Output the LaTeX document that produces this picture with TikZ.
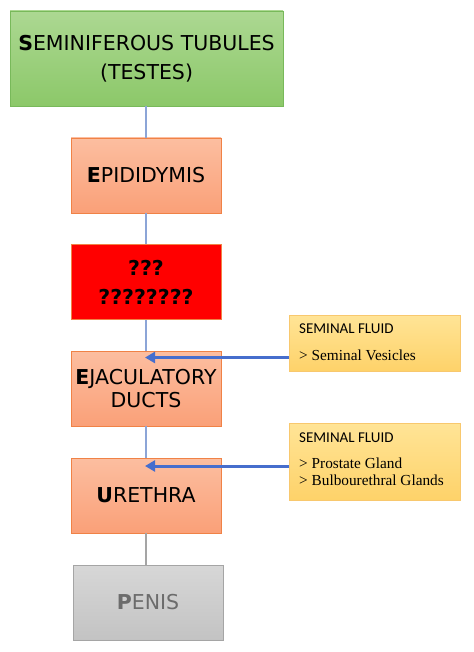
\documentclass[tikz,border=0pt]{standalone}
\usepackage{fontspec}
\setmainfont{DejaVu Sans}
\newfontfamily\calib{Carlito}
\newfontfamily\timesf{Liberation Serif}
\usetikzlibrary{arrows.meta}
\definecolor{grnT}{RGB}{172,216,146}
\definecolor{grnB}{RGB}{140,200,105}
\definecolor{grnE}{RGB}{120,185,90}
\definecolor{orT}{RGB}{252,190,160}
\definecolor{orB}{RGB}{250,160,120}
\definecolor{orE}{RGB}{240,130,70}
\definecolor{ylT}{RGB}{255,228,150}
\definecolor{ylB}{RGB}{254,210,105}
\definecolor{ylE}{RGB}{248,200,110}
\definecolor{gyT}{RGB}{215,215,215}
\definecolor{gyB}{RGB}{195,195,195}
\definecolor{gyE}{RGB}{165,165,165}
\definecolor{lnB}{RGB}{140,165,215}
\definecolor{arB}{RGB}{70,110,205}
\begin{document}
\begin{tikzpicture}[x=1pt,y=-1pt,
  boxbase/.style={draw, line width=0.8pt, minimum width=150pt, minimum height=75pt, align=center, inner sep=1pt, font=\fontsize{20.5}{29}\selectfont},
  orbox/.style={boxbase, draw=orE, top color=orT, bottom color=orB},
  redbox/.style={boxbase, draw=orE, fill=red, font=\fontsize{20.5}{29}\selectfont\bfseries},
  grbox/.style={boxbase, draw=grnE, top color=grnT, bottom color=grnB, minimum width=273pt, minimum height=95pt},
  gybox/.style={boxbase, draw=gyE, top color=gyT, bottom color=gyB, text=gray!85!black},
  ylbox/.style={draw=ylE, line width=0.8pt, top color=ylT, bottom color=ylB, minimum width=171pt, anchor=north west, align=left, inner sep=0pt, text width=160pt},
  ylhead/.style={anchor=west, inner sep=0pt, font=\calib\fontsize{15}{17}\selectfont},
  ylitem/.style={anchor=west, inner sep=0pt, font=\timesf\fontsize{15.3}{17}\selectfont},
  link/.style={draw=lnB, line width=1.1pt},
  feed/.style={draw=arB, line width=3pt, -{Triangle[length=10pt,width=11pt]}}
]
\useasboundingbox (0,0) rectangle (473,652);
\node[grbox] (sem) at (146.5,58.5) {\textbf{S}EMINIFEROUS TUBULES\\(TESTES)};
\node[orbox] (epi) at (146,175.5) {\textbf{E}PIDIDYMIS};
\node[redbox] (vas) at (146,282) {???\\????????};
\node[orbox, font=\fontsize{20.5}{22.5}\selectfont] (eja) at (146,388.5) {\textbf{E}JACULATORY\\DUCTS};
\node[orbox] (ure) at (146,495.5) {\textbf{U}RETHRA};
\node[gybox] (pen) at (148,602.5) {\textbf{P}ENIS};
\node[ylbox, minimum height=56pt] (sv) at (289,315) {};
\node[ylhead] (svt) at (299,329) {SEMINAL FLUID};
\node[ylitem] (svl) at (299,355) {> Seminal Vesicles};
\node[ylbox, minimum height=77pt] (pg) at (289,423) {};
\node[ylhead] (pgt) at (299,438) {SEMINAL FLUID};
\node[ylitem] (pgl1) at (299,463.5) {> Prostate Gland};
\node[ylitem] (pgl2) at (299,480.5) {> Bulbourethral Glands};
\coordinate (a1) at (145,357.5);
\coordinate (a2) at (145,466);
\draw[link] (sem.south -| epi.north) -- (epi.north);
\draw[link] (epi) -- (vas);
\draw[link] (vas) -- (eja);
\draw[link] (eja) -- (ure);
\draw[draw=gyE, line width=1.3pt] (ure.south) -- (ure.south |- pen.north);
\draw[feed] (sv.west |- a1) -- (a1);
\draw[feed] (pg.west |- a2) -- (a2);
\end{tikzpicture}
\end{document}
